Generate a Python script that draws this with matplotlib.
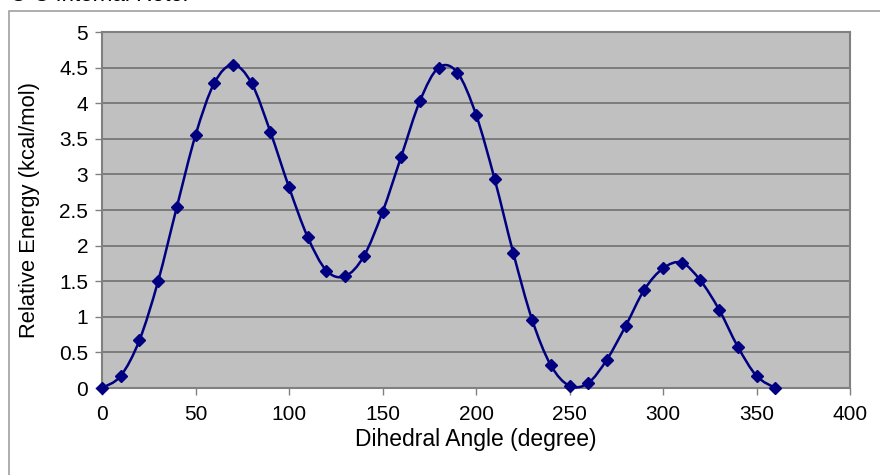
import matplotlib
matplotlib.use("Agg")
import matplotlib.pyplot as plt
from matplotlib.path import Path
from matplotlib.patches import PathPatch, Rectangle

plt.rcParams['font.family'] = ['Liberation Sans', 'DejaVu Sans']

title_text = "C-C Internal Rotor"
x_label = "Dihedral Angle (degree)"
y_label = "Relative Energy (kcal/mol)"

angles = [0, 10, 20, 30, 40, 50, 60, 70, 80, 90, 100, 110, 120, 130, 140, 150, 160, 170, 180,
          190, 200, 210, 220, 230, 240, 250, 260, 270, 280, 290, 300, 310, 320, 330, 340, 350, 360]
energy = [0.00, 0.17, 0.67, 1.50, 2.54, 3.55, 4.28, 4.54, 4.28, 3.60, 2.82, 2.12, 1.65, 1.57,
          1.85, 2.47, 3.25, 4.03, 4.50, 4.43, 3.84, 2.93, 1.89, 0.96, 0.32, 0.03, 0.07, 0.40,
          0.87, 1.38, 1.68, 1.76, 1.51, 1.10, 0.58, 0.17, 0.00]

x_ticks = [0, 50, 100, 150, 200, 250, 300, 350, 400]
y_ticks = [0, 0.5, 1, 1.5, 2, 2.5, 3, 3.5, 4, 4.5, 5]
y_tick_labels = ["0", "0.5", "1", "1.5", "2", "2.5", "3", "3.5", "4", "4.5", "5"]

navy = "#000080"

fig = plt.figure(figsize=(8.8, 4.75), dpi=100)
fig.patch.set_facecolor("white")

# outer chart frame (extends beyond figure right/bottom)
fig.add_artist(Rectangle((8.5 / 880, -0.1), 1.2, 1 - 11.5 / 475 + 0.1, transform=fig.transFigure,
                         fill=False, edgecolor="#a0a0a0", linewidth=1.2))
fig.text(10 / 880, 1 - 6 / 475, title_text, fontsize=16, ha="left", va="bottom", color="black")

ax = fig.add_axes([102 / 880, 1 - 388 / 475, (850 - 102) / 880, (388 - 32) / 475])
ax.set_facecolor("#C0C0C0")
ax.set_xlim(0, 400)
ax.set_ylim(0, 5)
ax.set_xticks(x_ticks)
ax.set_xticklabels([str(v) for v in x_ticks])
ax.set_yticks(y_ticks)
ax.set_yticklabels(y_tick_labels)
ax.yaxis.grid(True, color="#707070", linewidth=1.2)
ax.xaxis.grid(False)
ax.set_axisbelow(True)
for s in ax.spines.values():
    s.set_color("#808080")
    s.set_linewidth(1.5)
ax.tick_params(axis="both", which="major", direction="out", length=5, width=1, color="#808080",
               labelsize=15, labelcolor="black")
ax.tick_params(axis="x", pad=7)
ax.tick_params(axis="y", pad=5)
ax.set_xlabel(x_label, fontsize=16.5, labelpad=3)
ax.set_ylabel(y_label, fontsize=15.8, labelpad=14)

# smoothed line (Catmull-Rom as cubic Bezier, like spreadsheet smoothing)
verts = [(angles[0], energy[0])]
codes = [Path.MOVETO]
n = len(angles)
for i in range(n - 1):
    p0 = (angles[max(i - 1, 0)], energy[max(i - 1, 0)])
    p1 = (angles[i], energy[i])
    p2 = (angles[i + 1], energy[i + 1])
    p3 = (angles[min(i + 2, n - 1)], energy[min(i + 2, n - 1)])
    c1 = (p1[0] + (p2[0] - p0[0]) / 6, p1[1] + (p2[1] - p0[1]) / 6)
    c2 = (p2[0] - (p3[0] - p1[0]) / 6, p2[1] - (p3[1] - p1[1]) / 6)
    verts += [c1, c2, p2]
    codes += [Path.CURVE4] * 3
ax.add_patch(PathPatch(Path(verts, codes), facecolor="none", edgecolor=navy, linewidth=1.8,
                       clip_on=False, zorder=3))
ax.plot(angles, energy, linestyle="none", marker="D", markersize=6.5, color=navy,
        clip_on=False, zorder=4)

fig.savefig("out.png", dpi=100)
